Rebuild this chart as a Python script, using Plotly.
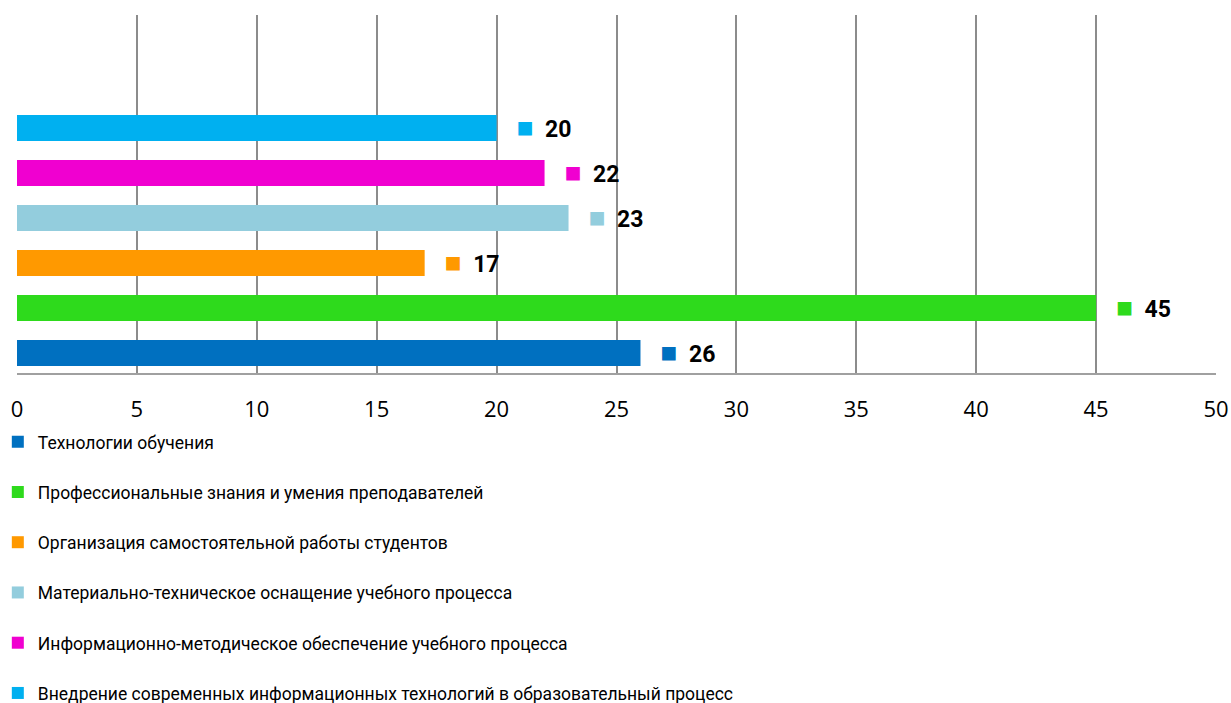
import plotly.graph_objects as go

categories = [
    "Технологии обучения",
    "Профессиональные знания и умения преподавателей",
    "Организация самостоятельной работы студентов",
    "Материально-техническое оснащение учебного процесса",
    "Информационно-методическое обеспечение учебного процесса",
    "Внедрение современных информационных технологий в образовательный процесс",
]
values = [26, 45, 17, 23, 22, 20]
colors = ["#0070C0", "#2EDA1C", "#FF9900", "#93CDDD", "#F000D0", "#00B0F0"]
x_ticks = [0, 5, 10, 15, 20, 25, 30, 35, 40, 45, 50]

W, H = 1231, 703
ML, MR, MT, MB = 17, 15, 15, 330

fig = go.Figure()
for i, (name, v, c) in enumerate(zip(categories, values, colors)):
    label = ("\u00a0\u00a0\u00a0<span style='color:%s;font-size:28px'>■</span>"
             "\u00a0\u00a0<b>%d</b>") % (c, v)
    fig.add_trace(go.Bar(
        x=[v], y=[0], orientation="h", name=name,
        marker=dict(color=c, line=dict(width=0)),
        text=[label], textposition="outside", cliponaxis=False,
        constraintext="none",
        textfont=dict(family="Roboto, sans-serif", size=23, color="#000000"),
        legendgroup="g%d" % i,
        hoverinfo="skip",
    ))

fig.update_layout(
    width=W, height=H,
    margin=dict(l=ML, r=MR, t=MT, b=MB, pad=0, autoexpand=False),
    plot_bgcolor="white", paper_bgcolor="white",
    barmode="group", bargap=0.2, bargroupgap=0.42,
    showlegend=True,
    legend=dict(
        x=-0.016, y=-0.142, xanchor="left", yanchor="top",
        traceorder="grouped", tracegroupgap=24.5,
        font=dict(family="Roboto, sans-serif", size=17.5, color="#000000"),
        itemwidth=30, bgcolor="rgba(0,0,0,0)",
    ),
    xaxis=dict(
        range=[0, 50], tickvals=x_ticks, ticktext=[str(t) for t in x_ticks],
        showgrid=True, gridcolor="#8C8C8C", gridwidth=1.5,
        showline=True, linecolor="#A0A0A0", linewidth=2,
        ticks="outside", ticklen=16, tickcolor="rgba(0,0,0,0)",
        tickfont=dict(family="Open Sans, sans-serif", size=22, color="#000000"),
        zeroline=False, mirror=False, automargin=False,
    ),
    yaxis=dict(
        range=[-0.3926, 0.668], showticklabels=False, showgrid=False,
        zeroline=False, showline=False, fixedrange=True, automargin=False,
    ),
)

fig.write_html(
    "out.html",
    config={"displayModeBar": False},
    post_script="document.body.style.margin='0';document.body.style.overflow='hidden';",
)
